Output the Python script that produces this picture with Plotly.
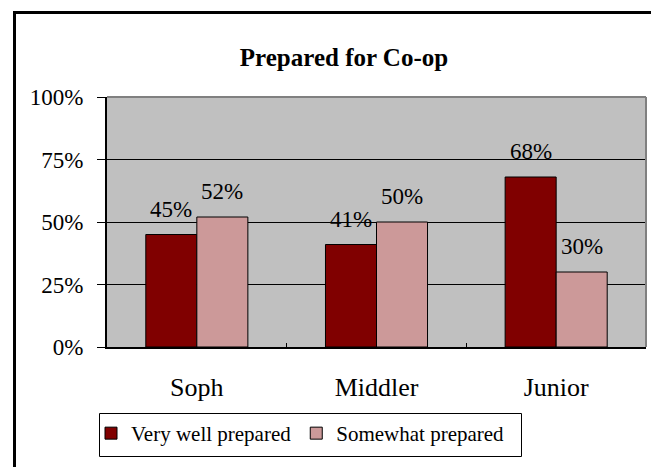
import plotly.graph_objects as go

categories = ["Soph", "Middler", "Junior"]
very_well = [45, 41, 68]
somewhat = [52, 50, 30]
series_names = ["Very well prepared", "Somewhat prepared"]
y_ticks = [0, 25, 50, 75, 100]
y_tick_labels = ["0%", "25%", "50%", "75%", "100%"]

FONT = "Liberation Serif, Times New Roman, serif"
RED = "#800000"
PINK = "#CC9999"

# layout helpers (pixel geometry of the plot area)
L, R, T, B = 99, 638, 89, 339
PW, PH = R - L, B - T
def px(x):
    return (x - L) / PW
def py(y):
    return (B - y) / PH

fig = go.Figure()
fig.add_trace(go.Bar(x=categories, y=very_well, name=series_names[0],
                     marker=dict(color=RED, line=dict(color="black", width=1))))
fig.add_trace(go.Bar(x=categories, y=somewhat, name=series_names[1],
                     marker=dict(color=PINK, line=dict(color="black", width=1))))

half_bar = 25.5
for vals, shift in ((very_well, -half_bar), (somewhat, half_bar)):
    for c, v in zip(categories, vals):
        fig.add_annotation(x=c, y=v, xref="x", yref="y", text=f"{v}%",
                           showarrow=False, xshift=shift, yanchor="bottom", yshift=11,
                           font=dict(family=FONT, size=23, color="black"))

# plot-area top & right border (gray)
fig.add_shape(type="line", xref="paper", yref="paper", x0=0, x1=1, y0=1, y1=1,
              line=dict(color="#808080", width=2), layer="above")
fig.add_shape(type="line", xref="paper", yref="paper", x0=1, x1=1, y0=0, y1=1,
              line=dict(color="#808080", width=2), layer="above")
# outer chart border
fig.add_shape(type="rect", xref="paper", yref="paper",
              x0=px(6.5), x1=px(661), y0=py(465.5), y1=py(4.5),
              line=dict(color="black", width=3), fillcolor="rgba(0,0,0,0)", layer="above")
# legend box
fig.add_shape(type="rect", xref="paper", yref="paper",
              x0=px(91.5), x1=px(513.5), y0=py(448.5), y1=py(405.5),
              line=dict(color="black", width=1), fillcolor="rgba(0,0,0,0)", layer="above")

fig.update_layout(
    width=659, height=467,
    margin=dict(l=L, r=659 - R, t=T, b=467 - B),
    paper_bgcolor="white", plot_bgcolor="#C0C0C0",
    barmode="group", bargap=0.432, bargroupgap=0,
    font=dict(family=FONT, color="black"),
    title=dict(text="<b>Prepared for Co-op</b>", x=336 / 659, xanchor="center",
               xref="container", yref="container", y=1 - 49 / 467, yanchor="middle",
               font=dict(family=FONT, size=25, color="black")),
    showlegend=True,
    legend=dict(orientation="h", x=px(83), xanchor="left",
                y=py(405), yanchor="top",
                borderwidth=0, bgcolor="rgba(0,0,0,0)",
                font=dict(family=FONT, size=21, color="black"),
                itemwidth=30, traceorder="normal"),
)
fig.update_xaxes(showline=True, linecolor="black", linewidth=2,
                 ticks="inside", tickson="boundaries", ticklen=4, tickcolor="black",
                 tickfont=dict(family=FONT, size=26, color="black"),
                 ticklabelstandoff=16, showgrid=False)
fig.update_yaxes(range=[0, 100], tickvals=y_ticks, ticktext=y_tick_labels,
                 showline=True, linecolor="black", linewidth=2,
                 ticks="outside", ticklen=8, tickcolor="black", tickwidth=1,
                 tickfont=dict(family=FONT, size=23, color="black"),
                 ticklabelstandoff=9,
                 showgrid=True, gridcolor="black", gridwidth=1, zeroline=False)

fig.write_html("out.html")
